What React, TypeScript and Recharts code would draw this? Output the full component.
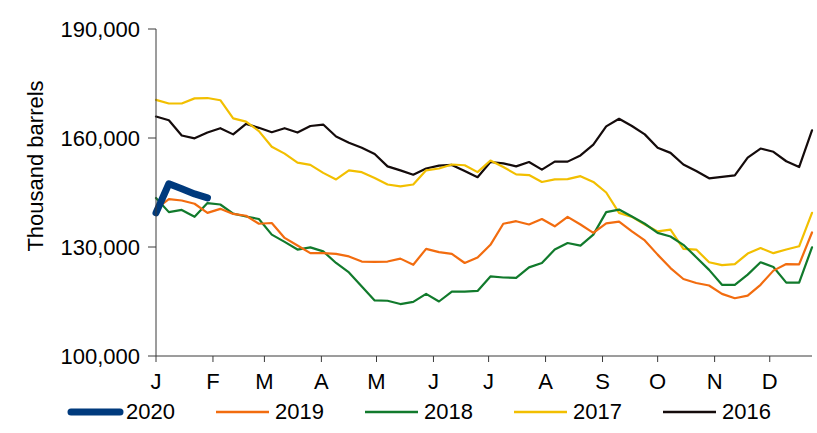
import React from 'react'
import { LineChart, Line, XAxis, YAxis, Legend } from 'recharts'

// day-of-year of each weekly observation
const weekDays = [
  0, 7, 14, 21, 28, 35, 42, 49, 56, 63, 70, 77, 84, 91, 98, 105, 112, 119, 126, 133, 140, 147, 154, 161, 168, 175,
  182, 189, 196, 203, 210, 217, 224, 231, 238, 245, 252, 259, 266, 273, 280, 287, 294, 301, 308, 315, 322, 329, 336,
  343, 350, 357,
]

const monthStarts = [0, 31, 59, 90, 120, 151, 181, 212, 243, 273, 304, 334]
const monthLabels = ['J', 'F', 'M', 'A', 'M', 'J', 'J', 'A', 'S', 'O', 'N', 'D']

const yTicks = [100000, 130000, 160000, 190000]

const stocks2020 = [139400, 147400, 146000, 144600, 143500]

const stocks2019 = [
  140500, 143200, 142800, 141900, 139400, 140500, 139100, 138600, 136400, 136600, 132500, 130400, 128300, 128300,
  128100, 127400, 126000, 125900, 126000, 126800, 125100, 129500, 128600, 128100, 125600, 127100, 130600, 136400,
  137100, 136200, 137700, 135700, 138300, 136200, 133900, 136500, 137000, 134300, 131800, 127900, 124200, 121200,
  120100, 119400, 117100, 115900, 116600, 119600, 123500, 125300, 125200, 134000,
]

const stocks2018 = [
  143500, 139600, 140200, 138300, 142100, 141700, 139200, 138400, 137700, 133400, 131400, 129300, 129900, 128800,
  125600, 123000, 119100, 115300, 115200, 114300, 114900, 117100, 115000, 117700, 117700, 117900, 121900, 121600,
  121500, 124400, 125600, 129300, 131100, 130400, 133400, 139600, 140300, 138400, 136400, 133900, 132900, 130600,
  127200, 123700, 119600, 119600, 122400, 125800, 124500, 120200, 120200, 129900,
]

const stocks2017 = [
  170500, 169500, 169500, 170900, 171000, 170400, 165400, 164500, 161900, 157600, 155700, 153200, 152600, 150400,
  148600, 151100, 150600, 149000, 147200, 146700, 147200, 151100, 151600, 152700, 152500, 150600, 153800, 152000,
  150000, 149800, 147900, 148600, 148700, 149500, 147900, 145000, 139400, 138300, 136200, 134300, 134800, 129500,
  129300, 125800, 125000, 125300, 128200, 129700, 128300, 129300, 130200, 139400,
]

const stocks2016 = [
  165900, 164900, 160700, 159900, 161500, 162700, 161000, 163900, 162800, 161600, 162700, 161500, 163300, 163700,
  160400, 158700, 157300, 155600, 152200, 151100, 149900, 151600, 152400, 152600, 150900, 149200, 153400, 153000,
  152200, 153400, 151300, 153500, 153500, 155200, 158200, 163200, 165300, 163300, 161000, 157300, 155900, 152700,
  150900, 148900, 149300, 149700, 154600, 157100, 156200, 153600, 152000, 162100,
]

const series = [
  { key: 'y2020', name: '2020', color: '#003A7D', width: 7 },
  { key: 'y2019', name: '2019', color: '#F26C0F', width: 2.2 },
  { key: 'y2018', name: '2018', color: '#117A2C', width: 2.2 },
  { key: 'y2017', name: '2017', color: '#F2BF00', width: 2.2 },
  { key: 'y2016', name: '2016', color: '#140B0B', width: 2.2 },
]

const data = weekDays.map((day, i) => ({
  day,
  y2020: stocks2020[i] ?? null,
  y2019: stocks2019[i],
  y2018: stocks2018[i],
  y2017: stocks2017[i],
  y2016: stocks2016[i],
}))

const FONT = '"Liberation Sans", Arial, sans-serif'
const AXIS = '#3a3a3a'

function YearLegend() {
  return (
    <div style={{ display: 'flex', height: 30, alignItems: 'center', paddingLeft: 67, fontFamily: FONT }}>
      {series.map((s) => {
        const thick = s.width > 3
        return (
          <div key={s.key} style={{ display: 'flex', alignItems: 'center', width: 155 }}>
            <svg width={57} height={12}>
              <line
                x1={thick ? 4 : 0}
                x2={53}
                y1={6}
                y2={6}
                stroke={s.color}
                strokeWidth={thick ? 7 : 2.5}
                strokeLinecap={thick ? 'round' : 'butt'}
              />
            </svg>
            <span style={{ fontSize: 22, color: '#000', marginLeft: 2 }}>{s.name}</span>
          </div>
        )
      })}
    </div>
  )
}

export default function App() {
  const drawOrder = [...series].reverse()
  return (
    <div style={{ position: 'absolute', left: 0, top: 0 }}>
      <LineChart
        width={817}
        height={433}
        data={data}
        margin={{ top: 29, right: 5, bottom: 6, left: 0 }}
        style={{ fontFamily: FONT }}
      >
        <XAxis
          dataKey="day"
          type="number"
          domain={[0, 357]}
          ticks={monthStarts}
          tickFormatter={(d: number) => monthLabels[monthStarts.indexOf(d)]}
          interval={0}
          height={41}
          tickSize={6}
          tickMargin={11}
          stroke={AXIS}
          tick={{ fill: '#000', fontSize: 22 }}
        />
        <YAxis
          domain={[100000, 190000]}
          ticks={yTicks}
          width={156}
          tickSize={8}
          tickMargin={8}
          stroke={AXIS}
          tick={{ fill: '#000', fontSize: 22 }}
          tickFormatter={(v: number) => v.toLocaleString('en-US')}
          label={{
            content: () => (
              <text
                x={35}
                y={166}
                transform="rotate(-90 35 166)"
                textAnchor="middle"
                dominantBaseline="central"
                fontSize={22}
                fill="#000"
              >
                Thousand barrels
              </text>
            ),
          }}
        />
        <Legend verticalAlign="bottom" content={() => <YearLegend />} />
        {drawOrder.map((s) => (
          <Line
            key={s.key}
            dataKey={s.key}
            name={s.name}
            stroke={s.color}
            strokeWidth={s.width}
            strokeLinecap="round"
            strokeLinejoin="round"
            dot={false}
            activeDot={false}
            type="linear"
            connectNulls={false}
            isAnimationActive={false}
          />
        ))}
      </LineChart>
    </div>
  )
}
